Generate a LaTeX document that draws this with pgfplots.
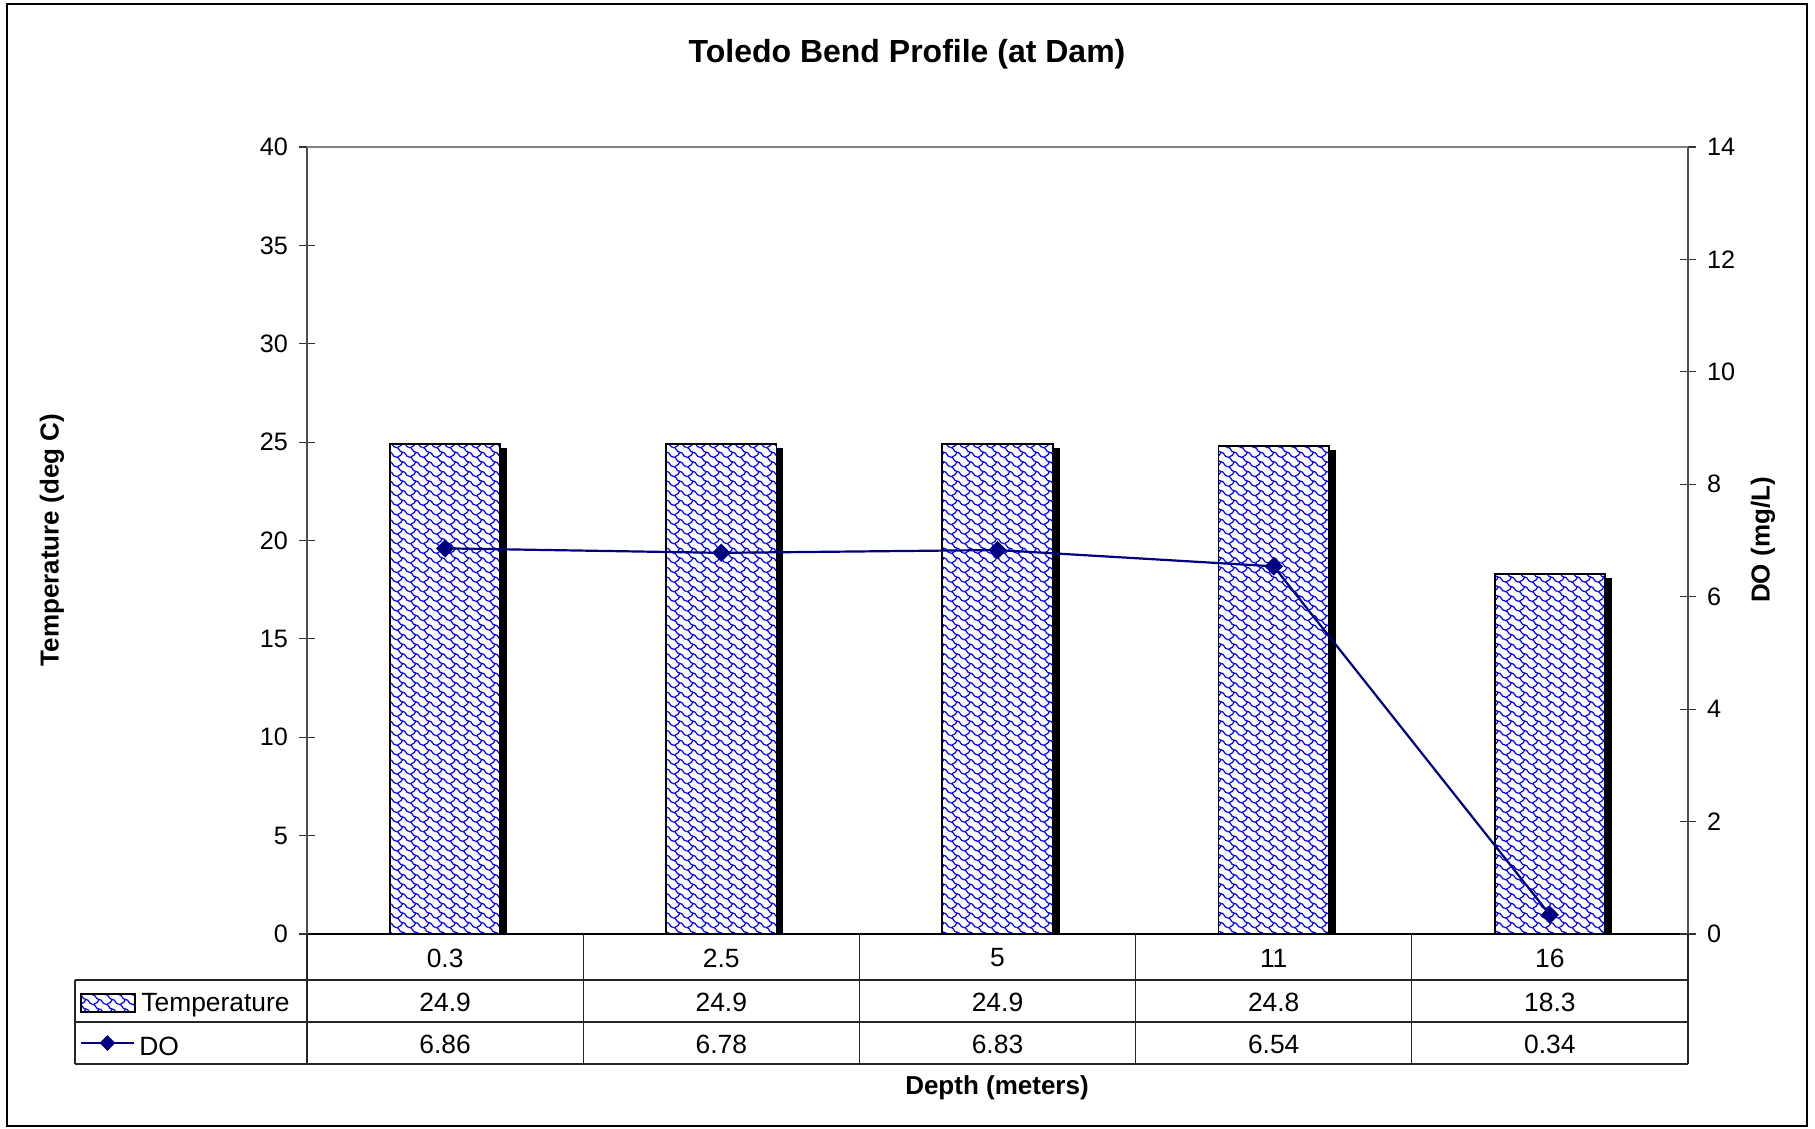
\documentclass[border=0pt]{standalone}
\usepackage{fontspec}
\setmainfont{Liberation Sans}
\usepackage{pgfplots}
\usepackage{pgfplotstable}
\pgfplotsset{compat=1.18}
\usetikzlibrary{patterns}

\definecolor{navyline}{RGB}{0,0,128}

% shingle-like fill used by Excel for the temperature bars
\pgfdeclarepatternformonly{shingle}{\pgfqpoint{-1pt}{-1pt}}{\pgfqpoint{7.5pt}{6pt}}{\pgfqpoint{6.6pt}{4.8pt}}{
  \pgfsetlinewidth{0.6pt}
  \pgfpathmoveto{\pgfqpoint{0pt}{4.8pt}}
  \pgfpathcurveto{\pgfqpoint{1.9pt}{4.8pt}}{\pgfqpoint{1.4pt}{2.4pt}}{\pgfqpoint{3.3pt}{2.4pt}}
  \pgfpathcurveto{\pgfqpoint{5.2pt}{2.4pt}}{\pgfqpoint{4.7pt}{0pt}}{\pgfqpoint{6.6pt}{0pt}}
  \pgfpathmoveto{\pgfqpoint{3.3pt}{2.4pt}}
  \pgfpathcurveto{\pgfqpoint{3.3pt}{1.2pt}}{\pgfqpoint{2pt}{0.6pt}}{\pgfqpoint{0.8pt}{0pt}}
  \pgfusepath{stroke}
}

\pgfplotstableread{
depth temp do
0.3   24.9 6.86
2.5   24.9 6.78
5     24.9 6.83
11    24.8 6.54
16    18.3 0.34
}\profile

\newcommand{\tfont}{\fontsize{12.6}{15}\selectfont}
\newcommand{\cfont}{\fontsize{13.2}{16}\selectfont}

\begin{document}
\begin{tikzpicture}
\useasboundingbox (-153.5pt,-97.5pt) rectangle (754pt,467pt);
\draw[black, line width=0.6pt] (-150pt,-96pt) rectangle (750pt,465pt);

\pgfplotsset{
  base/.style={
    at={(0,0)}, anchor=south west,
    scale only axis, width=690.5pt, height=393.5pt,
    xmin=-0.5, xmax=4.5,
    xtick=\empty,
    tick align=center, major tick length=8pt,
    every tick/.style={black!80, line width=0.6pt},
    ticklabel style={font=\tfont},
    /pgf/number format/assume math mode=true,
  }
}

\begin{axis}[base,
  ymin=0, ymax=40, ytick={0,5,...,40},
  axis x line*=bottom, axis y line*=left,
  x axis line style={black, line width=0.8pt, -},
  y axis line style={black!70, line width=0.8pt, -},
  yticklabel style={xshift=-2pt},
]
\addplot[ybar, bar width=0.4, fill=white, draw=black, line width=0.9pt,
  preaction={draw=black, fill=black, transform canvas={xshift=3pt, yshift=-2.5pt}},
  postaction={pattern=shingle, pattern color=blue}]
  table[x expr=\coordindex, y=temp] {\profile};
\end{axis}

\begin{axis}[base,
  ymin=0, ymax=14, ytick={0,2,...,14},
  axis x line=none, axis y line*=right,
  y axis line style={black!70, line width=0.8pt, -},
  yticklabel style={xshift=2pt},
]
\addplot[navyline, line width=1.1pt, mark=square*, mark size=2.7pt,
  mark options={rotate=45, fill=navyline, draw=navyline}]
  table[x expr=\coordindex, y=do] {\profile};
\end{axis}

% top frame line of the plot area
\draw[black!50, line width=0.8pt] (0,393.5pt) -- (690.5pt,393.5pt);

% data table under the plot
\begin{scope}[black!85, line width=0.6pt]
  \foreach \k in {0,...,5} \draw (\k*138.1pt,0) -- (\k*138.1pt,-65pt);
  \foreach \y in {-23,-44,-65} \draw (-116pt,\y pt) -- (690.5pt,\y pt);
  \draw (-116pt,-23pt) -- (-116pt,-65pt);
\end{scope}
\foreach \lab [count=\i from 0] in {0.3,2.5,5,11,16}
  \node[font=\cfont] at (69.05pt+\i*138.1pt,-12pt) {\lab};
\foreach \lab [count=\i from 0] in {24.9,24.9,24.9,24.8,18.3}
  \node[font=\cfont] at (69.05pt+\i*138.1pt,-34.2pt) {\lab};
\foreach \lab [count=\i from 0] in {6.86,6.78,6.83,6.54,0.34}
  \node[font=\cfont] at (69.05pt+\i*138.1pt,-55pt) {\lab};

% legend keys inside the table
\fill[white] (-113pt,-39pt) rectangle (-86pt,-30pt);
\fill[pattern=shingle, pattern color=blue] (-113pt,-39pt) rectangle (-86pt,-30pt);
\draw[black, line width=0.9pt] (-113pt,-39pt) rectangle (-86pt,-30pt);
\node[font=\cfont, anchor=west, inner sep=0pt] at (-83pt,-35.5pt) {Temperature};
\draw[navyline, line width=1.1pt] (-113pt,-54.5pt) -- (-86.5pt,-54.5pt);
\fill[navyline] (-99.75pt,-50.6pt) -- (-95.85pt,-54.5pt) -- (-99.75pt,-58.4pt) -- (-103.65pt,-54.5pt) -- cycle;
\node[font=\cfont, anchor=west, inner sep=0pt] at (-84pt,-56pt) {DO};

% titles
\node[font=\fontsize{16}{19}\selectfont\bfseries] at (300pt,440pt) {Toledo Bend Profile (at Dam)};
\node[font=\fontsize{13}{16}\selectfont\bfseries] at (345pt,-77pt) {Depth (meters)};
\node[font=\fontsize{13}{16}\selectfont\bfseries, rotate=90] at (-127.5pt,197pt) {Temperature (deg C)};
\node[font=\fontsize{13}{16}\selectfont\bfseries, rotate=90] at (728pt,197pt) {DO (mg/L)};
\end{tikzpicture}
\end{document}
